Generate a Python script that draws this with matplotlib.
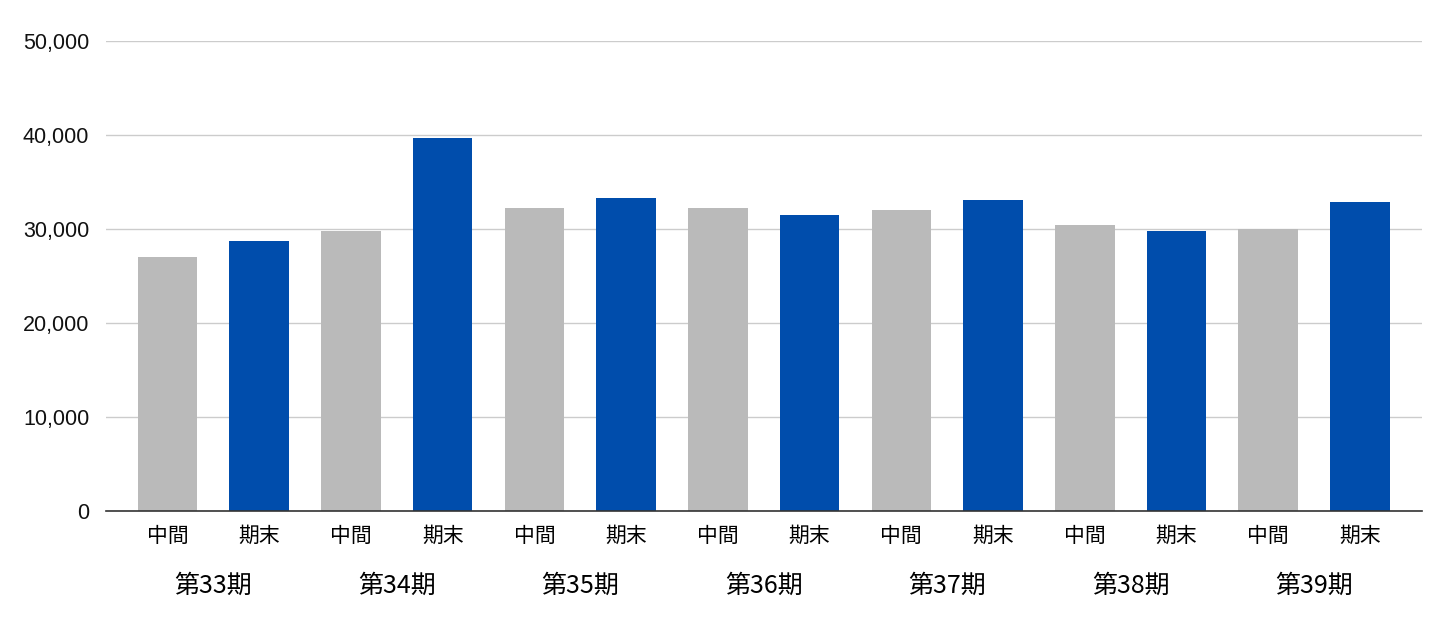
import numpy as np
import matplotlib.pyplot as plt
from matplotlib.transforms import blended_transform_factory

# data
periods = ["第33期", "第34期", "第35期", "第36期", "第37期", "第38期", "第39期"]
sub_labels = ["中間", "期末"]
interim = [27000, 29800, 32200, 32200, 32000, 30400, 30000]
year_end = [28700, 39700, 33300, 31500, 33100, 29800, 32900]
yticks = [0, 10000, 20000, 30000, 40000, 50000]

gray = "#bababa"
blue = "#004dac"
cjk = ["Noto Sans CJK JP", "DejaVu Sans"]

plt.rcParams["font.family"] = ["Liberation Sans", "Noto Sans CJK JP", "DejaVu Sans"]

fig = plt.figure(figsize=(14.52, 6.36), dpi=100)
ax = fig.add_axes([0.073, 0.1965, 0.906, 0.739])

n = len(periods)
x_int = np.arange(n) * 2
x_end = x_int + 1
w = 0.65
ax.bar(x_int, interim, width=w, color=gray, zorder=3)
ax.bar(x_end, year_end, width=w, color=blue, zorder=3)

ax.set_xlim(-0.67, 2 * n - 1 + 0.67)
ax.set_ylim(0, 50000)
ax.set_yticks(yticks)
ax.set_yticklabels([f"{v:,}" for v in yticks], fontsize=15.5, color="#111111")
ax.yaxis.grid(True, color="#cccccc", linewidth=1, zorder=0)

xt = np.concatenate([x_int, x_end])
xl = [sub_labels[0]] * n + [sub_labels[1]] * n
ax.set_xticks(xt)
ax.set_xticklabels(xl, fontsize=15, family=cjk, color="#000000")
ax.tick_params(axis="both", length=0)
ax.tick_params(axis="y", pad=12)
ax.tick_params(axis="x", pad=10)

for s in ["top", "right", "left"]:
    ax.spines[s].set_visible(False)
ax.spines["bottom"].set_color("#333333")
ax.spines["bottom"].set_linewidth(1.2)
ax.spines["bottom"].set_zorder(4)

trans = blended_transform_factory(ax.transData, ax.transAxes)
for i, p in enumerate(periods):
    ax.text(x_int[i] + 0.5, -0.16, p, transform=trans, ha="center", va="center",
            fontsize=18, family=cjk, color="#000000")

fig.savefig("out.png", dpi=100, facecolor="white")
